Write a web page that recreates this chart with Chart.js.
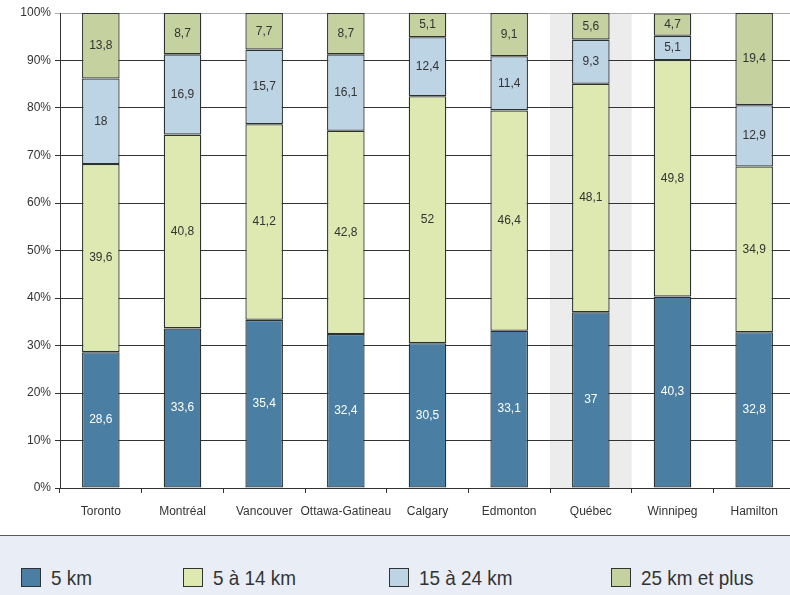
<!DOCTYPE html>
<html>
<head>
<meta charset="utf-8">
<script src="https://cdn.jsdelivr.net/npm/chart.js@4"></script>
<style>
  html, body { margin: 0; padding: 0; background: #fff; overflow: hidden; }
  #wrap { position: relative; width: 800px; height: 530px; }
  #legend { position: absolute; left: 0; top: 535px; width: 790px; height: 60px;
            border-top: 1px solid #5a5a5a; background: #e9eef6; overflow: hidden; }
  .item { position: absolute; top: 32px; height: 20px;
          font-family: 'Liberation Sans Narrow', 'Liberation Sans', Arial, sans-serif;
          font-size: 21px; color: #333; line-height: 20px; white-space: nowrap; }
  .item span.box { display: inline-block; width: 18px; height: 17px; border: 1px solid #333;
                   vertical-align: top; margin-right: 10px; }
  .item span.txt { display: inline-block; transform: scaleX(0.9); transform-origin: left center; }
</style>
</head>
<body>
<div id="wrap"><canvas id="chart" width="800" height="530"></canvas></div>
<div id="legend"></div>
<script>
// Globals
var FONT = "'Liberation Sans Narrow', 'Liberation Sans', Arial, sans-serif";

// ----------------- DATA -----------------
var cities = ["Toronto", "Montréal", "Vancouver", "Ottawa-Gatineau", "Calgary",
              "Edmonton", "Québec", "Winnipeg", "Hamilton"];
var seriesNames = ["5 km", "5 à 14 km", "15 à 24 km", "25 km et plus"];
var under5   = [28.6, 33.6, 35.4, 32.4, 30.5, 33.1, 37, 40.3, 32.8];
var from5to14  = [39.6, 40.8, 41.2, 42.8, 52, 46.4, 48.1, 49.8, 34.9];
var from15to24 = [18, 16.9, 15.7, 16.1, 12.4, 11.4, 9.3, 5.1, 12.9];
var over25   = [13.8, 8.7, 7.7, 8.7, 5.1, 9.1, 5.6, 4.7, 19.4];
var highlighted = "Québec";

var colors = ["#4a7ea3", "#dde9b0", "#bdd4e5", "#c6d1a0"];
var labelColors = ["#ffffff", "#333333", "#333333", "#333333"];

// ----------------- HELPERS -----------------
function fmt(v) {
    return String(v).replace(".", ",");
}

// grey band behind the highlighted city
var bandPlugin = {
    id: "band",
    beforeDraw: function(chart) {
        var x = chart.scales.x, a = chart.chartArea;
        var i = cities.indexOf(highlighted);
        var w = (x.right - x.left) / cities.length;
        var cx = x.getPixelForValue(i);
        chart.ctx.save();
        chart.ctx.fillStyle = "#ececec";
        chart.ctx.fillRect(cx - w / 2, a.top, w, a.bottom - a.top);
        chart.ctx.restore();
    }
};

// value labels in the middle of each segment
var valuePlugin = {
    id: "values",
    afterDatasetsDraw: function(chart) {
        var ctx = chart.ctx;
        ctx.save();
        ctx.font = "12px 'Liberation Sans', Arial, sans-serif";
        ctx.textAlign = "center";
        ctx.textBaseline = "middle";
        chart.data.datasets.forEach(function(ds, di) {
            var meta = chart.getDatasetMeta(di);
            meta.data.forEach(function(bar, i) {
                ctx.fillStyle = labelColors[di];
                ctx.fillText(fmt(ds.data[i]), bar.x, (bar.y + bar.base) / 2);
            });
        });
        ctx.restore();
    }
};

// ----------------- CHART -----------------
var values = [under5, from5to14, from15to24, over25];
var datasets = [];
for (var i = 0; i < seriesNames.length; i++) {
    datasets.push({
        label: seriesNames[i],
        data: values[i],
        backgroundColor: colors[i],
        borderColor: "#2b3230",
        borderWidth: 1.3,
        borderSkipped: false,
        barPercentage: 0.92,
        categoryPercentage: 0.5
    });
}

new Chart(document.getElementById("chart"), {
    type: "bar",
    data: { labels: cities, datasets: datasets },
    options: {
        responsive: false,
        animation: false,
        layout: { padding: { top: 13, right: 5 } },
        plugins: { legend: { display: false }, tooltip: { enabled: false } },
        scales: {
            x: {
                stacked: true,
                grid: { offset: true, drawOnChartArea: false, color: "#333", tickLength: 5 },
                border: { color: "#333", width: 1 },
                ticks: { color: "#333", font: { family: FONT, size: 12 }, padding: 11, maxRotation: 0, autoSkip: false },
                afterFit: function(s) { s.height = 42; }
            },
            y: {
                stacked: true,
                min: 0,
                max: 100,
                grid: {
                    color: function(c) { return c.tick && c.tick.value === 100 ? "#aaaaaa" : "#333"; },
                    tickLength: 5
                },
                border: { color: "#333", width: 1 },
                ticks: {
                    stepSize: 10,
                    color: "#333",
                    padding: 4,
                    font: { family: FONT, size: 12 },
                    callback: function(v) { return v + "%"; }
                },
                afterFit: function(s) { s.width = 60; }
            }
        }
    },
    plugins: [bandPlugin, valuePlugin]
});

// ----------------- LEGEND -----------------
var legendX = [21, 183, 389, 611];
var legend = document.getElementById("legend");
for (var j = 0; j < seriesNames.length; j++) {
    var el = document.createElement("div");
    el.className = "item";
    el.style.left = legendX[j] + "px";
    el.innerHTML = '<span class="box" style="background:' + colors[j] + '"></span>' +
                   '<span class="txt">' + seriesNames[j] + '</span>';
    legend.appendChild(el);
}
</script>
</body>
</html>
